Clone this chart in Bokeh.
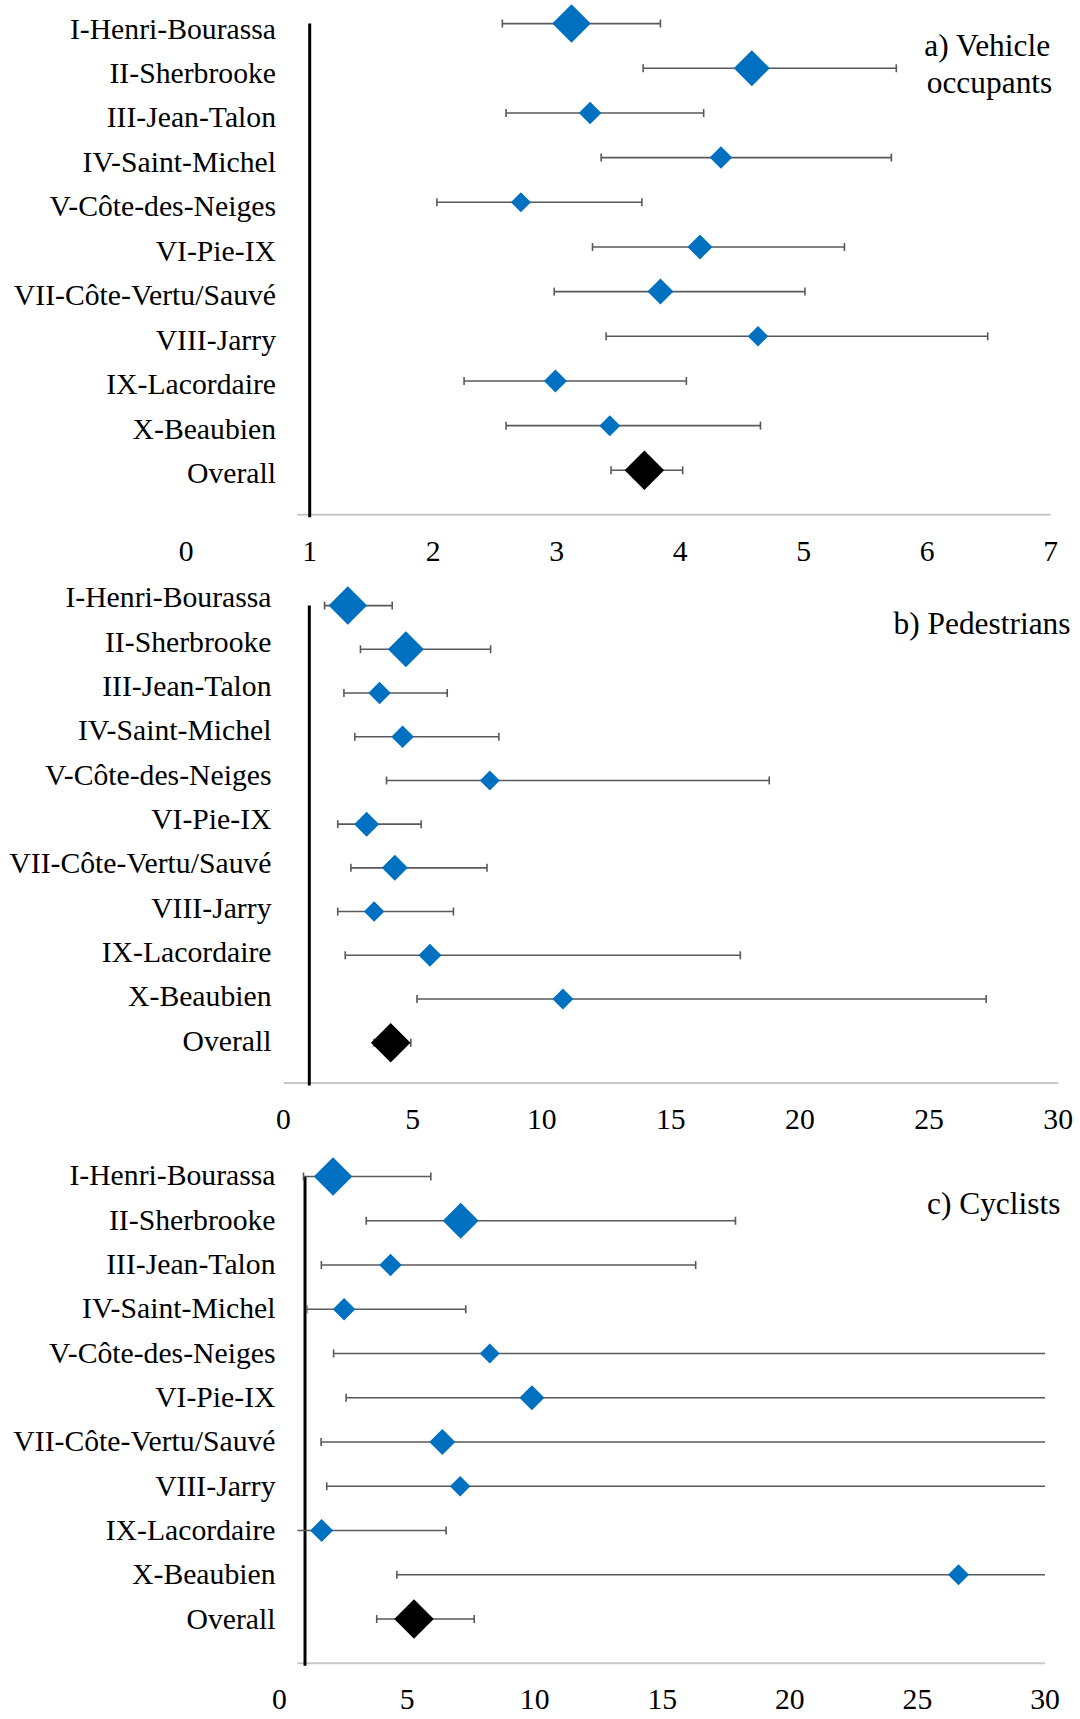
import math
from bokeh.plotting import figure
from bokeh.models import ColumnDataSource, LabelSet, Label, Range1d
from bokeh.layouts import column
from bokeh.embed import file_html
from bokeh.resources import INLINE
from bokeh.core.properties import value

# ---------------- data ----------------
categories = ["I-Henri-Bourassa", "II-Sherbrooke", "III-Jean-Talon", "IV-Saint-Michel",
              "V-Côte-des-Neiges", "VI-Pie-IX", "VII-Côte-Vertu/Sauvé", "VIII-Jarry",
              "IX-Lacordaire", "X-Beaubien", "Overall"]

# a) Vehicle occupants: estimate, lower and upper bound
veh_est = [3.12, 4.58, 3.27, 4.33, 2.71, 4.16, 3.84, 4.63, 2.99, 3.43, 3.71]
veh_lo = [2.56, 3.70, 2.59, 3.36, 2.03, 3.29, 2.98, 3.40, 2.25, 2.59, 3.44]
veh_hi = [3.84, 5.75, 4.19, 5.71, 3.69, 5.33, 5.01, 6.49, 4.05, 4.65, 4.02]

# b) Pedestrians
ped_est = [2.49, 4.74, 3.72, 4.61, 7.99, 3.22, 4.31, 3.51, 5.67, 10.82, 4.15]
ped_lo = [1.59, 2.98, 2.34, 2.76, 3.99, 2.10, 2.61, 2.10, 2.39, 5.17, 3.51]
ped_hi = [4.21, 8.02, 6.34, 8.34, 18.81, 5.33, 7.88, 6.58, 17.69, 27.21, 4.93]

# c) Cyclists (None = bound lies outside the plotted window)
cyc_est = [2.10, 7.10, 4.35, 2.53, 8.24, 9.89, 6.38, 7.08, 1.65, 26.61, 5.27]
cyc_lo = [0.94, 3.40, 1.64, 1.07, 2.12, 2.61, 1.63, 1.85, None, 4.60, 3.81]
cyc_hi = [5.93, 17.87, 16.31, 7.30, None, None, None, None, 6.53, None, 7.63]

veh_ticks = [0, 1, 2, 3, 4, 5, 6, 7]
veh_tick_labels = ["0", "1", "2", "3", "4", "5", "6", "7"]
ped_ticks = [0, 5, 10, 15, 20, 25, 30]
ped_tick_labels = ["0", "5", "10", "15", "20", "25", "30"]
cyc_ticks = [0, 5, 10, 15, 20, 25, 30]
cyc_tick_labels = ["0", "5", "10", "15", "20", "25", "30"]

null_value = 1.0

# ---------------- styles ----------------
BLUE = "#0070C0"
BLACK = "#000000"
WHISKER = "#595959"
AXIS_GRAY = "#C8C8C8"
FONT = "Liberation Serif"
LABEL_SIZE = "29.7px"
TITLE_SIZE = "31.4px"
marker_diag = [38.5, 36, 22.5, 22.5, 20, 25, 26, 20.5, 23, 21, 39.5]
marker_colors = [BLUE] * 10 + [BLACK]

PAGE_W = 1080


def panel(est, lo, hi, ticks, tick_labels, titles, g):
    unit = (g["end_px"] - g["zero_px"]) / g["x_end"]
    T = g["fig_top"]
    B = g["fig_bottom"]

    def ydat(px):
        return (px - g["row0"]) / g["step"]

    def xdat(px):
        return (px - g["zero_px"]) / unit

    p = figure(width=PAGE_W, height=B - T,
               x_range=Range1d(xdat(0), xdat(PAGE_W)),
               y_range=Range1d(start=ydat(B), end=ydat(T)),
               output_backend="svg", toolbar_location=None, title=None,
               x_axis_location=None, y_axis_location=None,
               min_border=0, min_border_left=0, min_border_right=0,
               min_border_top=0, min_border_bottom=0)
    p.extra_y_ranges = {"lab": Range1d(start=(B - g["lab0"]) / g["lstep"],
                                       end=(T - g["lab0"]) / g["lstep"])}
    p.outline_line_color = None
    p.background_fill_color = "white"
    p.border_fill_color = "white"
    for gr in p.grid:
        gr.visible = False

    n = len(est)
    rows = list(range(n))
    x0, x1 = g["x_start"], g["x_end"]

    # horizontal axis line (plot-area width) and vertical reference line
    p.segment(x0=[x0], x1=[x1], y0=[ydat(g["axis_px"])], y1=[ydat(g["axis_px"])],
              line_color=AXIS_GRAY, line_width=2)
    p.segment(x0=[null_value], x1=[null_value], y0=[0], y1=[ydat(g["axis_px"] + 2.5)],
              line_color=BLACK, line_width=3)

    # whiskers, limited to the plot area
    lo_vis = [x0 if v is None else max(v, x0) for v in lo]
    hi_vis = [x1 if v is None else min(v, x1) for v in hi]
    src = ColumnDataSource(dict(row=rows, est=est, lo=lo_vis, hi=hi_vis,
                                size=[d / math.sqrt(2) for d in marker_diag],
                                color=marker_colors))
    p.segment(x0="lo", x1="hi", y0="row", y1="row", source=src,
              line_color=WHISKER, line_width=1.6)
    cap_x, cap_y = [], []
    for i in rows:
        for v in (lo[i], hi[i]):
            if v is not None and x0 <= v <= x1:
                cap_x.append(v)
                cap_y.append(i)
    p.scatter(x=cap_x, y=cap_y, marker="dash", angle=math.pi / 2, size=8,
              line_color=WHISKER, line_width=1.6)
    p.scatter(x="est", y="row", source=src, marker="square", angle=math.pi / 4,
              size="size", fill_color="color", line_color=None)

    # category labels
    lab_src = ColumnDataSource(dict(x=[xdat(g["lab_right"])] * n, y=rows, text=categories))
    p.add_layout(LabelSet(x="x", y="y", text="text", source=lab_src, y_range_name="lab",
                          text_align="right", text_baseline="alphabetic",
                          text_font=value(FONT), text_font_size=value(LABEL_SIZE),
                          text_color="black"))
    # x tick labels
    tick_src = ColumnDataSource(dict(x=ticks, y=[ydat(g["tick_px"])] * len(ticks), text=tick_labels))
    p.add_layout(LabelSet(x="x", y="y", text="text", source=tick_src,
                          text_align="center", text_baseline="middle",
                          text_font=value(FONT), text_font_size=value(LABEL_SIZE),
                          text_color="black"))
    # panel titles
    for txt, xpx, ypx, align in titles:
        p.add_layout(Label(x=xdat(xpx), y=ydat(ypx), text=txt, text_align=align,
                           text_baseline="alphabetic", text_font=FONT,
                           text_font_size=TITLE_SIZE, text_color="black"))
    return p


geo_a = dict(fig_top=0, fig_bottom=570, zero_px=185.7, end_px=1050.2, x_start=0.9, x_end=7,
             row0=23.1, step=44.67, lab0=38.0, lstep=44.47, axis_px=514.3, tick_px=551,
             lab_right=275.5)
geo_b = dict(fig_top=570, fig_bottom=1135, zero_px=283.0, end_px=1057.7, x_start=0, x_end=30,
             row0=605.1, step=43.71, lab0=606.8, lstep=44.35, axis_px=1082.5, tick_px=1118.5,
             lab_right=271.0)
geo_c = dict(fig_top=1135, fig_bottom=1719, zero_px=279.0, end_px=1044.5, x_start=0.7, x_end=30,
             row0=1176.0, step=44.25, lab0=1184.8, lstep=44.35, axis_px=1662.7, tick_px=1699,
             lab_right=275.0)

pa = panel(veh_est, veh_lo, veh_hi, veh_ticks, veh_tick_labels,
           [("a) Vehicle", 987, 45, "center"), ("occupants", 989, 81.5, "center")], geo_a)
pb = panel(ped_est, ped_lo, ped_hi, ped_ticks, ped_tick_labels,
           [("b) Pedestrians", 893.0, 623, "left")], geo_b)
pc = panel(cyc_est, cyc_lo, cyc_hi, cyc_ticks, cyc_tick_labels,
           [("c) Cyclists", 926.5, 1203, "left")], geo_c)

layout = column(pa, pb, pc, spacing=0)
open("out.html", "w").write(file_html(layout, INLINE))
